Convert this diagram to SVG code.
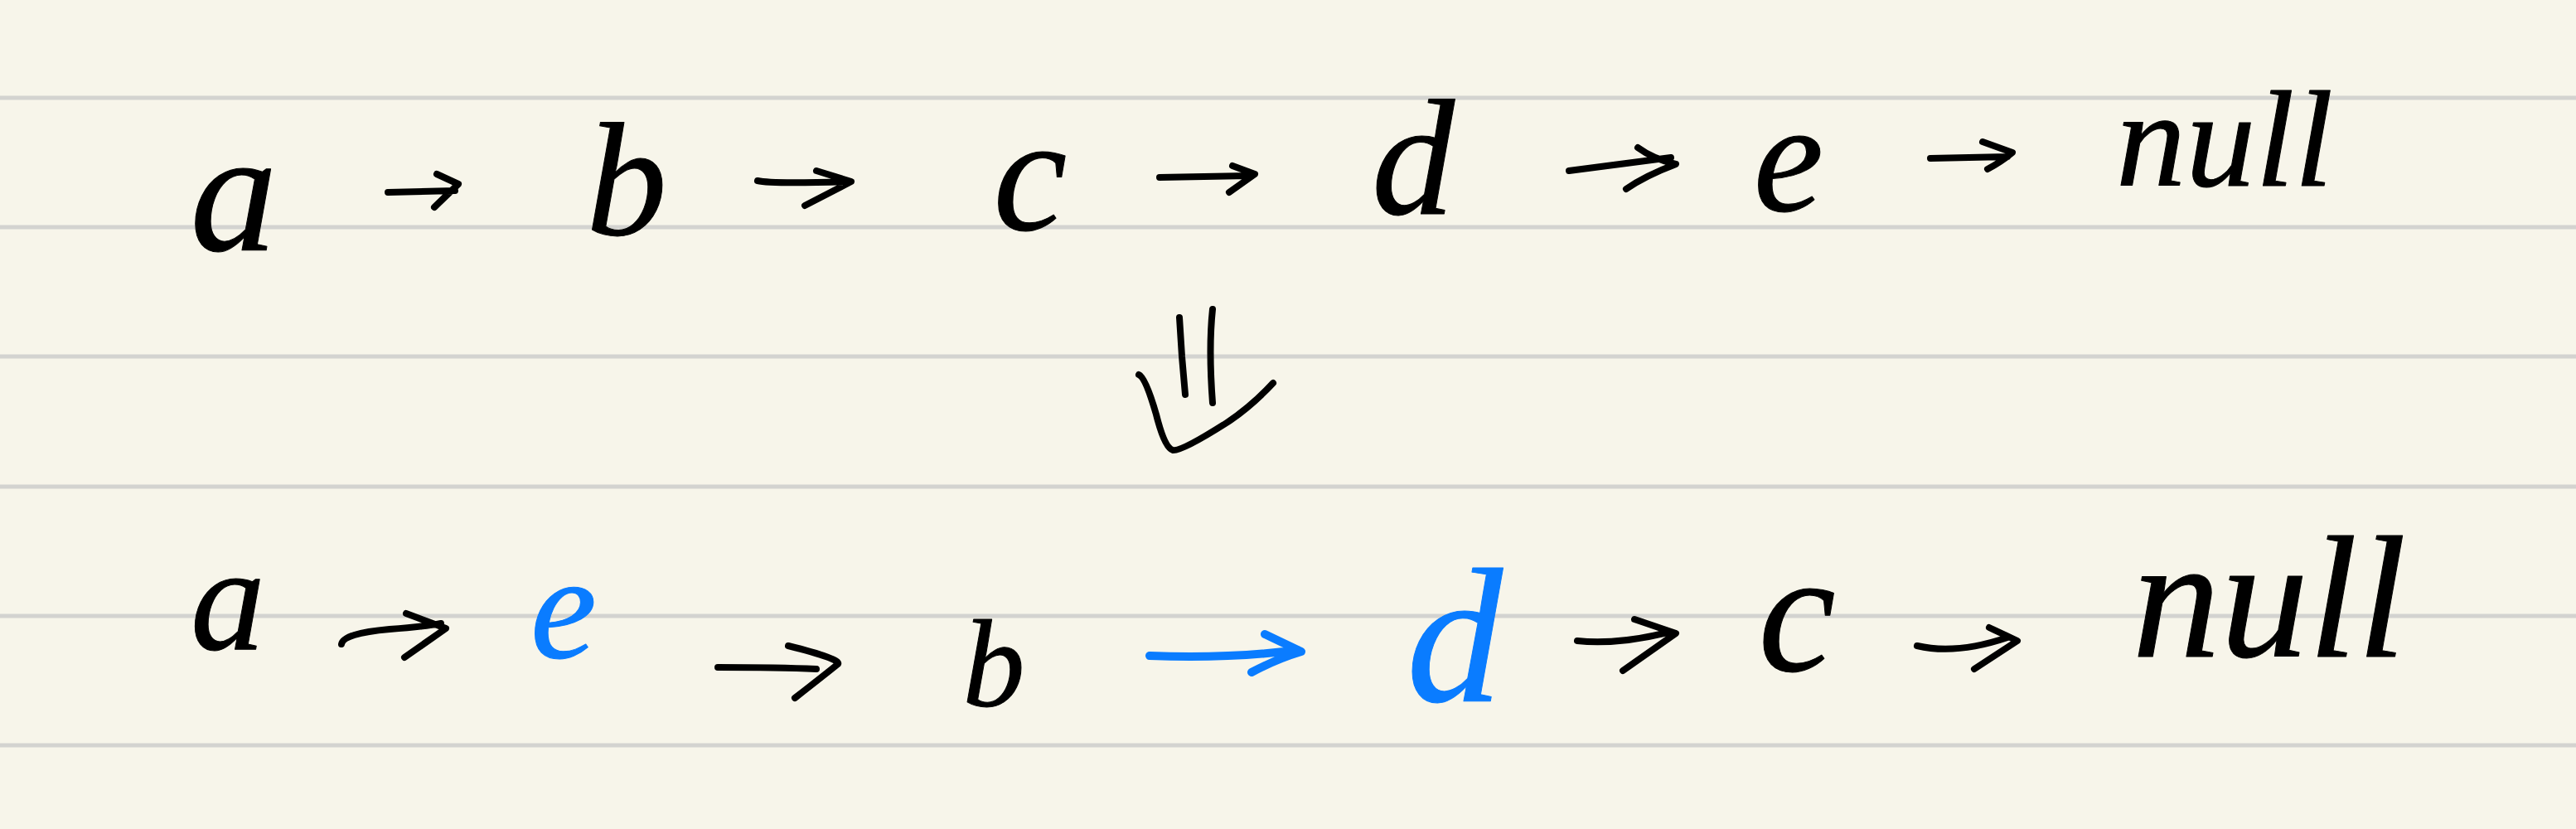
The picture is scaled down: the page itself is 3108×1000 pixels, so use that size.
<svg xmlns="http://www.w3.org/2000/svg" width="3108" height="1000" viewBox="0 0 3108 1000">
<style>
.rule{stroke:#d3d3d0;stroke-width:5}
.t{font-family:"Liberation Serif","DejaVu Serif",serif;font-style:italic;text-anchor:middle;fill:#000;stroke:#000;stroke-width:1;stroke-linejoin:round}
.tb{fill:#0a7cff;stroke:#0a7cff}
.ln{fill:none;stroke:#000;stroke-width:8;stroke-linecap:round;stroke-linejoin:round}
.bl{stroke:#0a7cff;stroke-width:10}
</style>
<rect width="3108" height="1000" fill="#f7f5ea"/>
<g id="rules">
<line class="rule" x1="0" y1="118" x2="3108" y2="118"/>
<line class="rule" x1="0" y1="274" x2="3108" y2="274"/>
<line class="rule" x1="0" y1="430" x2="3108" y2="430"/>
<line class="rule" x1="0" y1="587" x2="3108" y2="587"/>
<line class="rule" x1="0" y1="743" x2="3108" y2="743"/>
<line class="rule" x1="0" y1="899" x2="3108" y2="899"/>
</g>
<g id="top-a"><text class="t" x="282" y="302" font-size="210">a</text></g>
<g id="top-b"><text class="t" x="756" y="283" font-size="195">b</text></g>
<g id="top-c"><text class="t" x="1243" y="277" font-size="200">c</text></g>
<g id="top-d"><text class="t" x="1705" y="258" font-size="200">d</text></g>
<g id="top-e"><text class="t" x="2158" y="254" font-size="190">e</text></g>
<g id="top-null"><text class="t" x="2684" y="224" font-size="165" textLength="262" lengthAdjust="spacingAndGlyphs">null</text></g>
<g id="bot-a"><text class="t" x="275" y="783" font-size="180">a</text></g>
<g id="bot-e"><text class="t tb" x="680" y="793" font-size="180">e</text></g>
<g id="bot-b"><text class="t" x="1199" y="852" font-size="150">b</text></g>
<g id="bot-d"><text class="t tb" x="1755" y="846" font-size="232">d</text></g>
<g id="bot-c"><text class="t" x="2168" y="809" font-size="210">c</text></g>
<g id="bot-null"><text class="t" x="2738" y="792" font-size="210" textLength="331" lengthAdjust="spacingAndGlyphs">null</text></g>
<g id="connectors">
<path class="ln" d="M468,232 L549,230 M527,210 L553,222 L524,250"/>
<path class="ln" d="M914,218 Q930,222 1026,219 M985,206 L1027,219 L971,248"/>
<path class="ln" d="M1399,214 L1506,212 M1487,200 L1514,210 L1483,232"/>
<path class="ln" d="M1893,206 L2016,190 M1976,178 Q1995,192 2022,198 Q1985,212 1962,228"/>
<path class="ln" d="M2329,191 L2422,189 M2392,171 L2428,184 Q2415,195 2398,204"/>
<path class="ln" d="M1423,383 L1426,430 L1430,476 M1463,373 Q1458,420 1463,486 M1374,452 Q1382,455 1395,500 Q1405,540 1415,543 Q1425,545 1480,510 Q1510,490 1536,462"/>
<path class="ln" d="M412,777 Q414,764 470,759 Q510,756 532,752 M490,740 L538,758 L488,793"/>
<path class="ln" d="M866,805 Q940,805 985,807 M951,779 Q1015,795 1011,801 Q1000,810 959,842"/>
<path class="ln bl" d="M1387,791 Q1480,795 1566,784 M1526,765 L1570,786 Q1540,795 1510,811"/>
<path class="ln" d="M1903,773 Q1950,778 2012,763 M1972,747 L2022,764 L1958,809"/>
<path class="ln" d="M2313,779 Q2360,790 2422,769 M2400,757 L2434,773 L2382,807"/>
</g>
</svg>
